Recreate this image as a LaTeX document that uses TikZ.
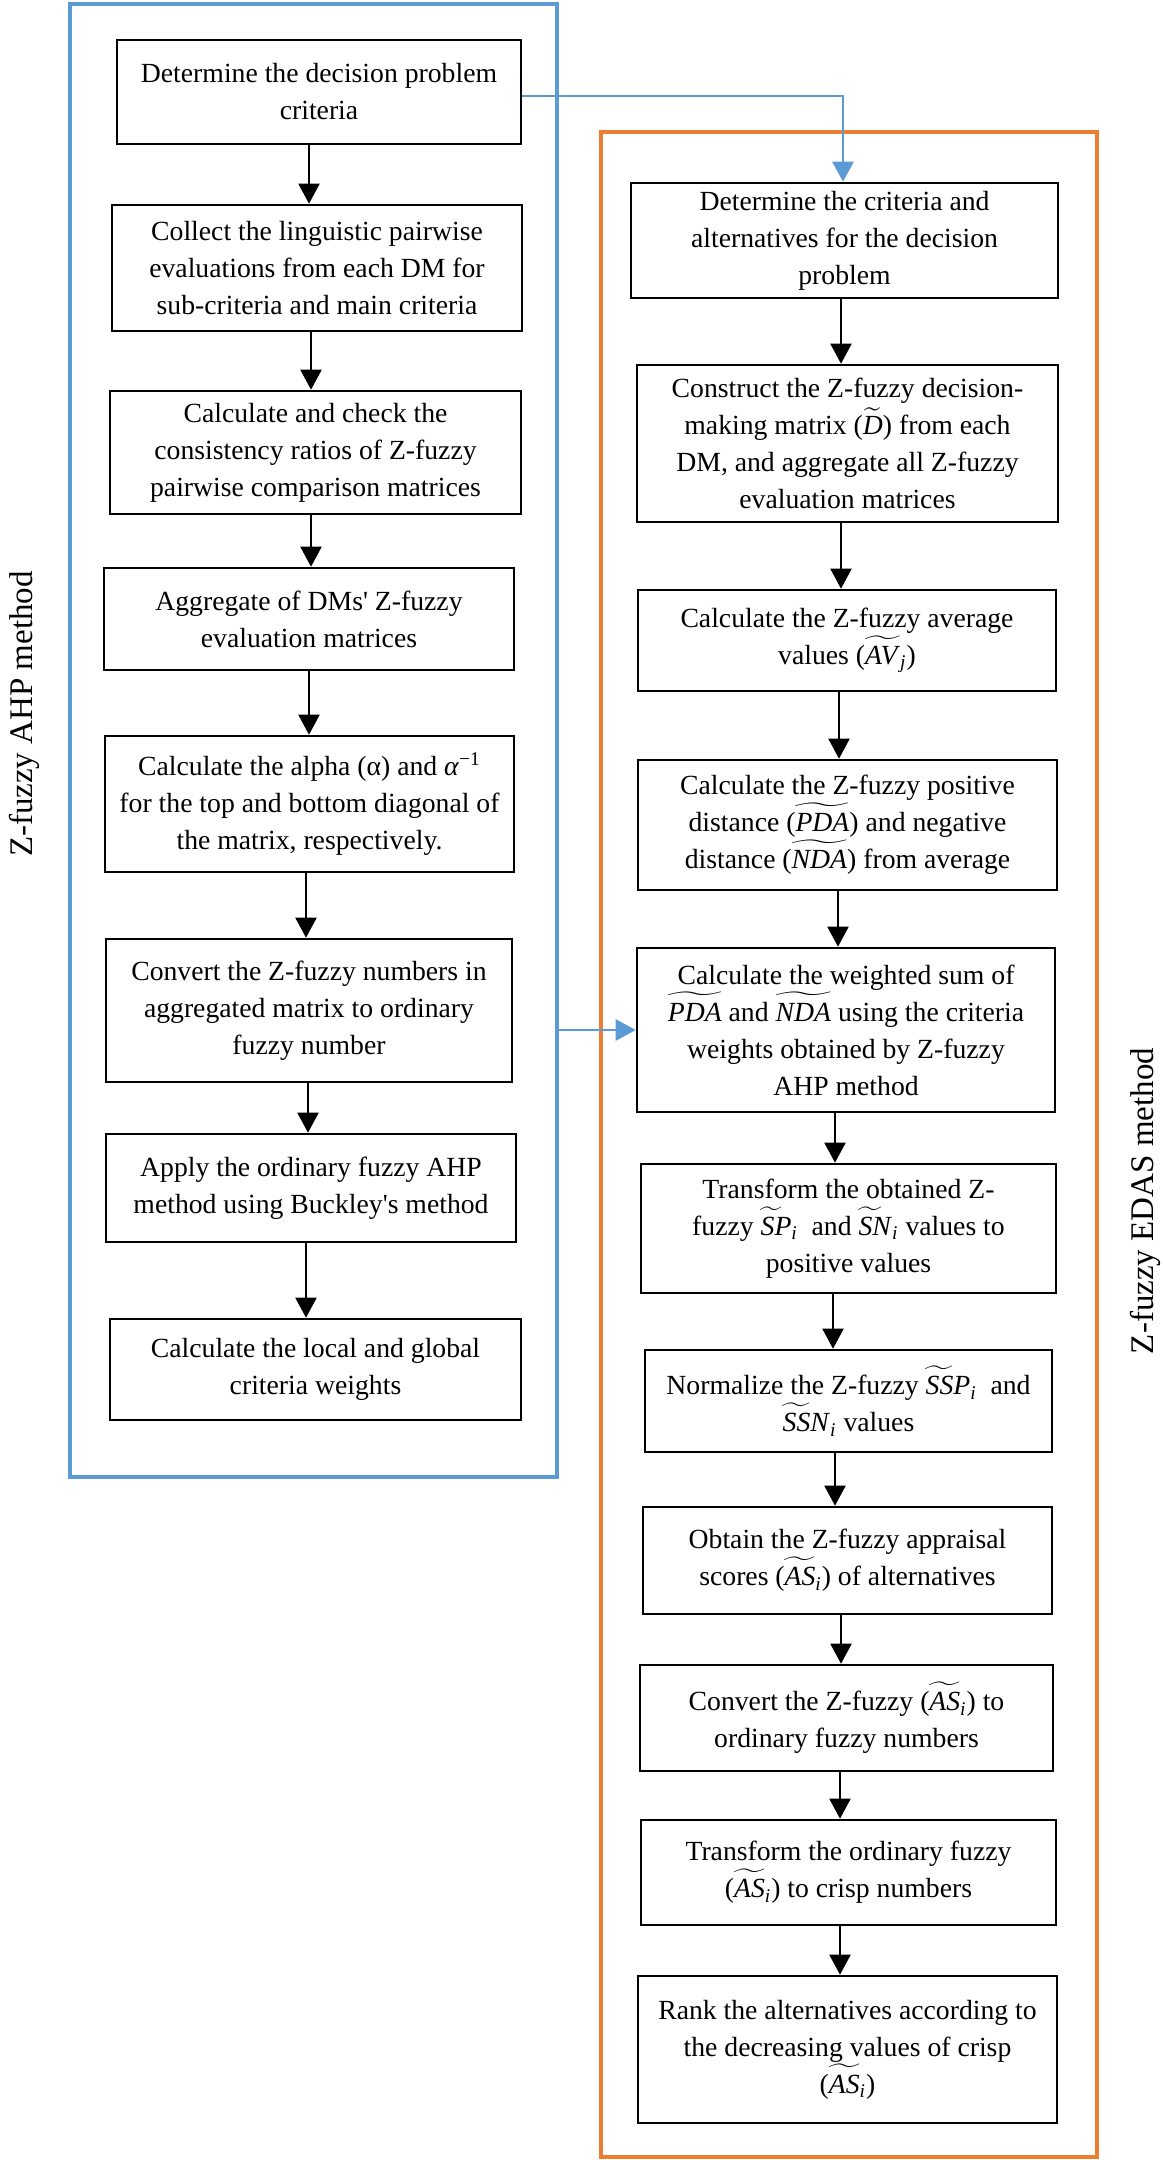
\documentclass[tikz,border=0pt]{standalone}
\usepackage{amsmath}
\usepackage{graphicx}
\usepackage{fontspec}
\setmainfont{Liberation Serif}
\usetikzlibrary{arrows.meta,fit}
\definecolor{ahpblue}{RGB}{91,155,213}
\definecolor{edasorange}{RGB}{237,125,49}
% wide tilde over italic letters
\newcommand{\wt}[2][1]{\leavevmode{\setbox0=\hbox{\textit{#2}}%
  \rlap{\resizebox{#1\wd0}{\height}{$\widetilde{\phantom{AA}}$}}\box0}}
% box from corners (pixels): name, x1, y1, x2, y2, text
\newcommand{\bx}[6]{%
  \pgfmathsetmacro{\bw}{0.5*(#4-#2)}%
  \pgfmathsetmacro{\bh}{0.5*(#5-#3)}%
  \pgfmathsetmacro{\bcx}{(#2+#4)/2}%
  \pgfmathsetmacro{\bcy}{(#3+#5)/2}%
  \node[box, minimum width=\bw pt, minimum height=\bh pt] (#1) at (\bcx,\bcy)
    {\begin{minipage}[c][\bh pt][c]{\bw pt}\centering #6\end{minipage}};}
\begin{document}
\begin{tikzpicture}[x=0.5pt,y=-0.5pt,
  box/.style={draw=black, line width=1.3pt, inner sep=0pt,
    font=\fontsize{13.85}{18.5}\selectfont},
  arr/.style={draw=black, line width=1pt, -{Triangle[length=10pt,width=10.5pt]}},
  barr/.style={draw=ahpblue, line width=1.4pt, -{Triangle[length=10pt,width=10.5pt]}},
  frame/.style={line width=1.6pt, inner sep=0pt},
  vlabel/.style={rotate=90, font=\fontsize{16.5}{16.5}\selectfont, inner sep=0pt}]
\useasboundingbox (0,0) rectangle (1163,2160);

% frames
\node[frame, draw=ahpblue, fit={(70,4) (557,1477)}] (ahp) {};
\node[frame, draw=edasorange, fit={(601,132) (1097,2157)}] (edas) {};

% vertical labels
\node[vlabel] (ahpl) at (24,714) {Z-fuzzy AHP method};
\node[vlabel] (edasl) at (1145,1201) {Z-fuzzy EDAS method};

% left column
\bx{l1}{117}{40}{521}{144}{Determine the decision problem\\criteria}
\bx{l2}{112}{205}{522}{331}{Collect the linguistic pairwise\\evaluations from each DM for\\sub-criteria and main criteria}
\bx{l3}{110}{391}{521}{514}{Calculate and check the\\consistency ratios of Z-fuzzy\\pairwise comparison matrices}
\bx{l4}{104}{568}{514}{670}{Aggregate of DMs\textquotesingle{} Z-fuzzy\\evaluation matrices}
\bx{l5}{105}{736}{514}{872}{Calculate the alpha (α) and \textit{α}\textsuperscript{−1}\\for the top and bottom diagonal of\\the matrix, respectively.}
\bx{l6}{106}{939}{512}{1082}{Convert the Z-fuzzy numbers in\\aggregated matrix to ordinary\\fuzzy number}
\bx{l7}{106}{1134}{516}{1242}{Apply the ordinary fuzzy AHP\\method using Buckley\textquotesingle{}s method}
\bx{l8}{110}{1319}{521}{1420}{Calculate the local and global\\criteria weights}

% right column
\bx{r1}{631}{183}{1058}{298}{Determine the criteria and\\alternatives for the decision\\problem}
\bx{r2}{637}{365}{1058}{522}{Construct the Z-fuzzy decision-\\making matrix ($\widetilde{\textit{D}}$) from each\\DM, and aggregate all Z-fuzzy\\evaluation matrices}
\bx{r3}{638}{590}{1056}{691}{Calculate the Z-fuzzy average\\values (\wt{AV}$_{\textit{j}}$)}
\bx{r4}{638}{760}{1057}{890}{Calculate the Z-fuzzy positive\\distance (\wt{PDA}) and negative\\distance (\wt{NDA}) from average}
\bx{r5}{637}{948}{1055}{1112}{Calculate the weighted sum of\\\wt{PDA} and \wt{NDA} using the criteria\\weights obtained by Z-fuzzy\\AHP method}
\bx{r6}{641}{1164}{1056}{1293}{Transform the obtained Z-\\fuzzy \wt[0.7]{SP}$_{\textit{i}}$\ \ and \wt[0.7]{SN}$_{\textit{i}}$ values to\\positive values}
\bx{r7}{645}{1350}{1052}{1452}{Normalize the Z-fuzzy \wt{SS}\textit{P}$_{\textit{i}}$\ \ and\\\wt{SS}\textit{N}$_{\textit{i}}$ values}
\bx{r8}{643}{1507}{1052}{1614}{Obtain the Z-fuzzy appraisal\\scores (\wt{AS}$_{\textit{i}}$) of alternatives}
\bx{r9}{640}{1665}{1053}{1771}{Convert the Z-fuzzy (\wt{AS}$_{\textit{i}}$) to\\ordinary fuzzy numbers}
\bx{r10}{641}{1820}{1056}{1925}{Transform the ordinary fuzzy\\(\wt{AS}$_{\textit{i}}$) to crisp numbers}
\bx{r11}{638}{1976}{1057}{2123}{Rank the alternatives according to\\the decreasing values of crisp\\(\wt{AS}$_{\textit{i}}$)}

% arrow columns
\coordinate (a1) at (309,0);
\coordinate (a2) at (311,0);
\coordinate (a3) at (311,0);
\coordinate (a4) at (309,0);
\coordinate (a5) at (306,0);
\coordinate (a6) at (308,0);
\coordinate (a7) at (306,0);
\draw[arr] (l1.south -| a1) -- (l2.north -| a1);
\draw[arr] (l2.south -| a2) -- (l3.north -| a2);
\draw[arr] (l3.south -| a3) -- (l4.north -| a3);
\draw[arr] (l4.south -| a4) -- (l5.north -| a4);
\draw[arr] (l5.south -| a5) -- (l6.north -| a5);
\draw[arr] (l6.south -| a6) -- (l7.north -| a6);
\draw[arr] (l7.south -| a7) -- (l8.north -| a7);

\coordinate (b1) at (841,0);
\coordinate (b2) at (841,0);
\coordinate (b3) at (839,0);
\coordinate (b4) at (838,0);
\coordinate (b5) at (835,0);
\coordinate (b6) at (833,0);
\coordinate (b7) at (835,0);
\coordinate (b8) at (841,0);
\coordinate (b9) at (840,0);
\coordinate (b10) at (840,0);
\draw[arr] (r1.south -| b1) -- (r2.north -| b1);
\draw[arr] (r2.south -| b2) -- (r3.north -| b2);
\draw[arr] (r3.south -| b3) -- (r4.north -| b3);
\draw[arr] (r4.south -| b4) -- (r5.north -| b4);
\draw[arr] (r5.south -| b5) -- (r6.north -| b5);
\draw[arr] (r6.south -| b6) -- (r7.north -| b6);
\draw[arr] (r7.south -| b7) -- (r8.north -| b7);
\draw[arr] (r8.south -| b8) -- (r9.north -| b8);
\draw[arr] (r9.south -| b9) -- (r10.north -| b9);
\draw[arr] (r10.south -| b10) -- (r11.north -| b10);

% blue connectors
\coordinate (k1) at (843,96);
\draw[barr] (l1.east |- k1) -- (k1) -- (r1.north -| k1);
\draw[barr] (ahp.east |- r5.west) -- (r5.west);
\end{tikzpicture}
\end{document}
